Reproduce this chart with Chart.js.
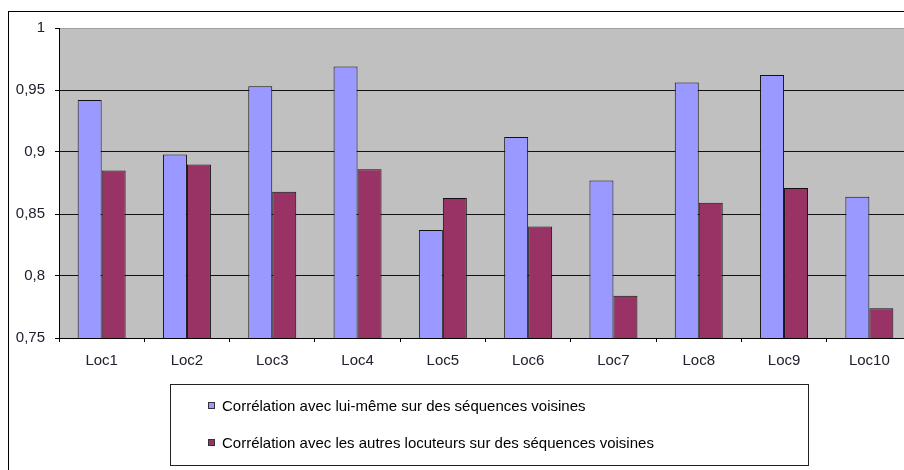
<!DOCTYPE html>
<html>
<head>
<meta charset="utf-8">
<script src="https://cdn.jsdelivr.net/npm/chart.js@4"></script>
<style>
  html, body { margin: 0; padding: 0; background: #fff; overflow: hidden; }
  #chart { display: block; }
</style>
</head>
<body>
<canvas id="chart" width="913" height="470"></canvas>
<script>
const categories = ["Loc1", "Loc2", "Loc3", "Loc4", "Loc5", "Loc6", "Loc7", "Loc8", "Loc9", "Loc10"];
const selfCorr = [0.942, 0.898, 0.953, 0.969, 0.837, 0.912, 0.877, 0.956, 0.962, 0.864];
const otherCorr = [0.885, 0.890, 0.868, 0.886, 0.863, 0.840, 0.784, 0.859, 0.871, 0.774];
const seriesLabels = [
  "Corrélation avec lui-même sur des séquences voisines",
  "Corrélation avec les autres locuteurs sur des séquences voisines",
];
const seriesColors = ["#9999FF", "#993366"];

const FONT = "'Liberation Sans', Arial, sans-serif";

// gray plot background + outer frame
const backdrop = {
  id: "backdrop",
  beforeDraw(chart) {
    const { ctx, chartArea: a } = chart;
    ctx.save();
    ctx.strokeStyle = "#000";
    ctx.lineWidth = 1;
    ctx.strokeRect(8.5, 11.5, 1000, 1000);
    ctx.fillStyle = "#C0C0C0";
    ctx.fillRect(a.left, a.top, a.right - a.left, a.bottom - a.top);
    ctx.restore();
  },
};

// boxed legend below the plot, one series per row
const boxLegend = {
  id: "boxLegend",
  afterDraw(chart) {
    const { ctx } = chart;
    ctx.save();
    ctx.strokeStyle = "#222";
    ctx.lineWidth = 1;
    ctx.strokeRect(170.5, 384.5, 638, 81);
    ctx.font = "15px " + FONT;
    ctx.textBaseline = "middle";
    chart.data.datasets.forEach((ds, i) => {
      const y = 406 + i * 37;
      ctx.fillStyle = ds.backgroundColor;
      ctx.fillRect(208, y - 4, 7, 7);
      ctx.strokeStyle = "#333";
      ctx.strokeRect(208.5, y - 3.5, 6, 6);
      ctx.fillStyle = "#000";
      ctx.fillText(ds.label, 222, y + 1);
    });
    ctx.restore();
  },
};

new Chart(document.getElementById("chart"), {
  type: "bar",
  data: {
    labels: categories,
    datasets: [
      {
        label: seriesLabels[0],
        data: selfCorr,
        backgroundColor: seriesColors[0],
        borderColor: "#111",
        borderWidth: 1,
        categoryPercentage: 0.5625,
        barPercentage: 1,
      },
      {
        label: seriesLabels[1],
        data: otherCorr,
        backgroundColor: seriesColors[1],
        borderColor: "#111",
        borderWidth: 1,
        categoryPercentage: 0.5625,
        barPercentage: 1,
      },
    ],
  },
  options: {
    responsive: false,
    animation: false,
    devicePixelRatio: 1,
    layout: { padding: { top: 28, left: 0, right: 1, bottom: 0 } },
    plugins: {
      legend: { display: false },
      tooltip: { enabled: false },
    },
    scales: {
      x: {
        afterFit(scale) { scale.height = 132; },
        grid: {
          drawOnChartArea: false,
          drawTicks: true,
          tickLength: 4,
          color: "#000",
        },
        border: { display: true, color: "#000" },
        ticks: {
          padding: 10,
          color: "#202030",
          font: { family: FONT, size: 15 },
        },
      },
      y: {
        min: 0.75,
        max: 1,
        afterFit(scale) { scale.width = 59; },
        grid: {
          color: (c) => (c.tick && c.tick.value >= 1 ? "#A0A0A0" : "#111"),
          tickColor: "#000",
          tickLength: 4,
        },
        border: { display: true, color: "#000" },
        ticks: {
          stepSize: 0.05,
          padding: 10,
          color: "#202030",
          font: { family: FONT, size: 15 },
          callback: (v) => String(Math.round(v * 100) / 100).replace(".", ","),
        },
      },
    },
  },
  plugins: [backdrop, boxLegend],
});
</script>
</body>
</html>
